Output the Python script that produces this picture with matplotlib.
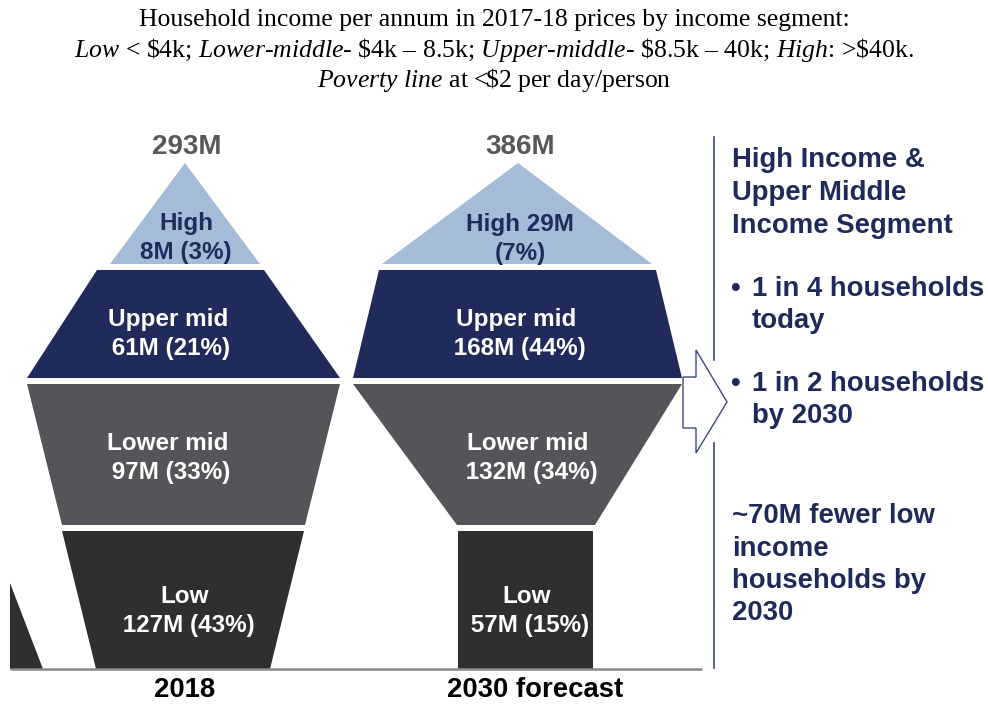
import matplotlib
matplotlib.use("Agg")
import matplotlib.pyplot as plt
from matplotlib.patches import Polygon

plt.rcParams['font.family'] = ['Liberation Sans', 'DejaVu Sans']
plt.rcParams['mathtext.fontset'] = 'custom'
plt.rcParams['mathtext.rm'] = 'Liberation Serif'
plt.rcParams['mathtext.it'] = 'Liberation Serif:italic'

# - - - - - - - - - - - - - - - - - - - - - - - - - - - - - - - - - - - - - -
# data
# - - - - - - - - - - - - - - - - - - - - - - - - - - - - - - - - - - - - - -
years = ["2018", "2030 forecast"]
totals_m = [293, 386]
segments = ["High", "Upper mid", "Lower mid", "Low"]
counts_2018 = [8, 61, 97, 127]
shares_2018 = [3, 21, 33, 43]
counts_2030 = [29, 168, 132, 57]
shares_2030 = [7, 44, 34, 15]

title_lines = [
    "Household income per annum in 2017-18 prices by income segment:",
    r"$\mathit{Low}$ < \$4k; $\mathit{Lower}$-$\mathit{middle}$- \$4k – 8.5k; "
    r"$\mathit{Upper}$-$\mathit{middle}$- \$8.5k – 40k; $\mathit{High}$: >\$40k.",
    r"$\mathit{Poverty}$ $\mathit{line}$ at <\$2 per day/person",
]
side_heading = ["High Income &", "Upper Middle", "Income Segment"]
side_bullets = [["1 in 4 households", "today"], ["1 in 2 households", "by 2030"]]
side_footer = ["~70M fewer low", "income", "households by", "2030"]

# - - - - - - - - - - - - - - - - - - - - - - - - - - - - - - - - - - - - - -
# layout / style (pixel space of the 988x704 canvas)
# - - - - - - - - - - - - - - - - - - - - - - - - - - - - - - - - - - - - - -
seg_colors = ["#a4bcd7", "#202a5b", "#555559", "#2f2f31"]
seg_text = ["#202a5b", "white", "white", "white"]
navy = "#1f2a5b"
band_y = [(163, 264), (270, 378), (384, 525), (531, 669)]
# (left top, right top, left bottom, right bottom) per band
edges = [
    [(185, 185, 110, 260), (97, 264, 27, 340), (27, 340, 62, 305), (62, 304, 96, 270)],
    [(518, 518, 382, 652), (379, 656, 353, 682), (353, 682, 457, 595), (458, 593, 458, 593)],
]
label_x = [[186, 168, 168, 185], [520, 516, 528, 527]]
label_y = [[238, 334, 458, 611], [239, 334, 458, 611]]
year_x = [185, 535]
total_x = [187, 520]

fig = plt.figure(figsize=(9.88, 7.04), dpi=100)
ax = fig.add_axes([0, 0, 1, 1])
ax.set_xlim(0, 988)
ax.set_ylim(704, 0)
ax.axis("off")

# title
for i, line in enumerate(title_lines):
    ax.text(494, 20 + i * 30, line, ha="center", va="center", fontsize=18.5,
            family="Liberation Serif", color="black")

counts = [counts_2018, counts_2030]
shares = [shares_2018, shares_2030]
for k in range(len(years)):
    for j, seg in enumerate(segments):
        lt, rt, lb, rb = edges[k][j]
        yt, yb = band_y[j]
        ax.add_patch(Polygon([(lt, yt), (rt, yt), (rb, yb), (lb, yb)], closed=True,
                             facecolor=seg_colors[j], edgecolor="none"))
        c, s = counts[k][j], shares[k][j]
        if j == 0 and k == 1:
            lbl = f"{seg} {c}M\n({s}%)"
        elif j == 0:
            lbl = f"{seg}\n{c}M ({s}%)"
        else:
            lbl = f"{seg}\n {c}M ({s}%)"
        ax.text(label_x[k][j], label_y[k][j], lbl, ha="center", va="center",
                multialignment="center", fontsize=17.5, fontweight="bold",
                color=seg_text[j], linespacing=1.38)
    ax.text(total_x[k], 147, f"{totals_m[k]}M", ha="center", va="center",
            fontsize=20, fontweight="bold", color="#58585a")
    ax.text(year_x[k], 690, years[k], ha="center", va="center",
            fontsize=19.8, fontweight="bold", color="black")

# odd sliver at far left and the baseline
ax.add_patch(Polygon([(10, 583), (43, 669), (10, 669)], closed=True,
                     facecolor=seg_colors[3], edgecolor="none"))
ax.plot([10, 702], [669, 669], color="#8a8a8a", lw=1.8, solid_capstyle="butt")

# outlined arrow
ax.add_patch(Polygon([(683, 377), (696, 377), (696, 350), (727, 402), (696, 453),
                      (696, 428), (683, 428)], closed=True, facecolor="white",
                     edgecolor="#3b4a7e", lw=1.0))
ax.plot([714, 714], [137, 360], color="#3b4a7e", lw=1.2)
ax.plot([714, 714], [443, 668], color="#3b4a7e", lw=1.2)

# side notes
fs_side = 19.8
for i, line in enumerate(side_heading):
    ax.text(732, 160 + i * 33, line, ha="left", va="center", fontsize=fs_side,
            fontweight="bold", color=navy)
for b, y0 in zip(side_bullets, [289, 384]):
    ax.text(730, y0, "•", ha="left", va="center", fontsize=fs_side, fontweight="bold", color=navy)
    for i, line in enumerate(b):
        ax.text(752, y0 + i * 32, line, ha="left", va="center", fontsize=fs_side,
                fontweight="bold", color=navy)
for i, line in enumerate(side_footer):
    ax.text(732, 516 + i * 32.5, line, ha="left", va="center", fontsize=fs_side,
            fontweight="bold", color=navy)

fig.savefig("out.png", dpi=100)
